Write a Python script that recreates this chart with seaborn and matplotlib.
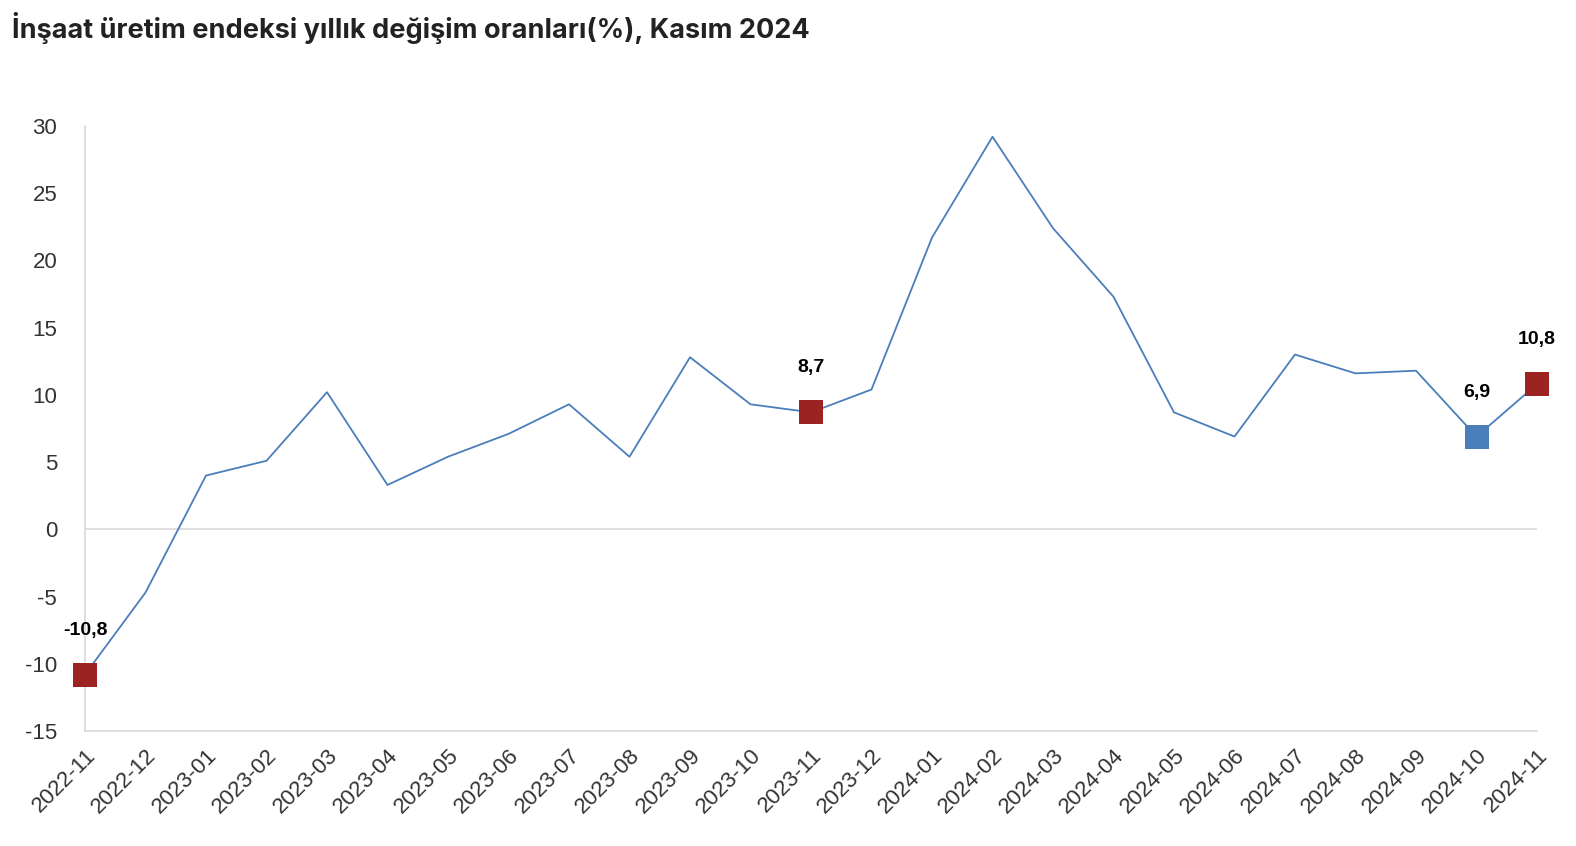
import pandas as pd
import numpy as np
import matplotlib.pyplot as plt
import seaborn as sns

# Monthly values (%)
months = ['2022-11', '2022-12', '2023-01', '2023-02', '2023-03', '2023-04', '2023-05',
          '2023-06', '2023-07', '2023-08', '2023-09', '2023-10', '2023-11', '2023-12',
          '2024-01', '2024-02', '2024-03', '2024-04', '2024-05', '2024-06', '2024-07',
          '2024-08', '2024-09', '2024-10', '2024-11']
values = [-10.8, -4.7, 4.0, 5.1, 10.2, 3.3, 5.4, 7.1, 9.3, 5.4, 12.8, 9.3, 8.7, 10.4,
          21.7, 29.2, 22.4, 17.3, 8.7, 6.9, 13.0, 11.6, 11.8, 6.9, 10.8]

# Highlighted points
red_months = ['2022-11', '2023-11', '2024-11']
blue_months = ['2024-10']

df = pd.DataFrame({'month': months, 'value': values})
df['pos'] = np.arange(len(df))

sns.set_style('white')
plt.rcParams['font.family'] = ['Liberation Sans', 'DejaVu Sans']
plt.rcParams['axes.unicode_minus'] = False

fig = plt.figure(figsize=(15.76, 8.46), dpi=100)
ax = fig.add_axes([85 / 1576, 1 - 731 / 846, (1537 - 85) / 1576, (731 - 126) / 846])

line_color = '#4a7ebb'
red = '#9b2423'

sns.lineplot(data=df, x='pos', y='value', ax=ax, color=line_color, linewidth=1.3)

for group, col in [(red_months, red), (blue_months, line_color)]:
    sub = df[df['month'].isin(group)]
    ax.plot(sub['pos'], sub['value'], 's', color=col, markersize=17.5,
            markeredgewidth=0, clip_on=False, zorder=5)
    for _, r in sub.iterrows():
        ax.annotate(f"{r['value']:.1f}".replace('.', ','), (r['pos'], r['value']),
                    xytext=(0, 32), textcoords='offset points', ha='center', va='center',
                    fontsize=14, fontweight='bold', color='black')

ax.set_xlim(0, len(df) - 1)
ax.set_ylim(-15, 30)
ax.set_yticks(range(-15, 31, 5))
ax.set_xticks(df['pos'])
ax.set_xticklabels(df['month'], rotation=45, ha='right', rotation_mode='anchor')
ax.tick_params(axis='both', length=0, labelsize=16, colors='#333333')
ax.tick_params(axis='y', pad=20)
ax.tick_params(axis='x', pad=10)
ax.axhline(0, color='#d9d9d9', linewidth=1.2, zorder=0)

for s in ['top', 'right']:
    ax.spines[s].set_visible(False)
for s in ['left', 'bottom']:
    ax.spines[s].set_color('#d9d9d9')
    ax.spines[s].set_linewidth(1.2)

ax.set_xlabel('')
ax.set_ylabel('')

fig.text(12 / 1576, 1 - 28 / 846, 'İnşaat üretim endeksi yıllık değişim oranları(%), Kasım 2024',
         fontsize=19.5, fontweight='bold', color='#222222', va='center', ha='left',
         family=['Inter', 'DejaVu Sans'])

fig.savefig('out.png', dpi=100)
